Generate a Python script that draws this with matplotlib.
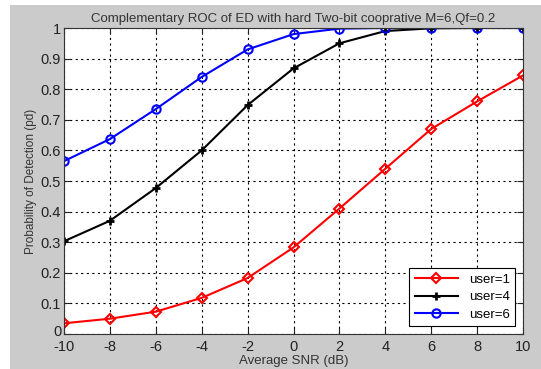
import matplotlib
matplotlib.use("Agg")
import matplotlib.pyplot as plt
from matplotlib.patches import Rectangle
import matplotlib.transforms as mtransforms

snr = [-10, -8, -6, -4, -2, 0, 2, 4, 6, 8, 10]
user1 = [0.035, 0.050, 0.073, 0.118, 0.183, 0.283, 0.410, 0.540, 0.670, 0.760, 0.845]
user4 = [0.303, 0.370, 0.477, 0.600, 0.748, 0.868, 0.950, 0.990, 0.999, 1.0, 1.0]
user6 = [0.565, 0.637, 0.735, 0.840, 0.930, 0.980, 0.998, 1.0, 1.0, 1.0, 1.0]
xticks = [-10, -8, -6, -4, -2, 0, 2, 4, 6, 8, 10]
yticks = [0, 0.1, 0.2, 0.3, 0.4, 0.5, 0.6, 0.7, 0.8, 0.9, 1]
ylabels = ['0', '0.1', '0.2', '0.3', '0.4', '0.5', '0.6', '0.7', '0.8', '0.9', '1']

plt.rcParams['font.family'] = ['Liberation Sans', 'DejaVu Sans']
plt.rcParams['axes.unicode_minus'] = False
W, H = 541, 369
fig = plt.figure(figsize=(W/100, H/100), dpi=100, facecolor='white')
fig.patches.append(Rectangle((10/W, 0), 1 - 10/W, 1 - 5/H, transform=fig.transFigure,
                             facecolor='#cbcbcb', edgecolor='none', zorder=-10))
ax = fig.add_axes([64/W, 1 - 334/H, (523-64)/W, (334-28)/H])
ax.set_facecolor('white')

ax.plot(snr, user1, color='#ff0000', marker='D', mfc='none', mec='#ff0000', ms=5, mew=1.5, lw=1.5, label='user=1')
ax.plot(snr, user4, color='black', marker='+', ms=6, mew=2, lw=1.5, label='user=4')
ax.plot(snr, user6, color='#0000ff', marker='o', mfc='none', mec='#0000ff', ms=6, mew=1.5, lw=1.5, label='user=6')

ax.set_xlim(-10, 10)
ax.set_ylim(0, 1)
ax.set_xticks(xticks)
ax.set_yticks(yticks)
ax.set_yticklabels(ylabels)
ax.grid(True, color='black', linestyle=(0, (2, 3)), linewidth=0.8)
ax.tick_params(direction='in', length=4, labelsize=10.5, colors='#222222', pad=2)
ax.tick_params(axis='x', pad=4)
ax.tick_params(top=True, right=True)
for s in ax.spines.values():
    s.set_color('#333333')
    s.set_linewidth(0.8)

fig.canvas.draw()
lab0 = ax.get_yticklabels()[0]
lab0.set_transform(lab0.get_transform() + mtransforms.ScaledTranslation(0, 3/100, fig.dpi_scale_trans))

ax.set_title('Complementary ROC of ED with hard Two-bit cooprative M=6,Qf=0.2', fontsize=9.5, color='#333333', pad=4)
ax.set_xlabel('Average SNR (dB)', fontsize=9.5, color='#333333', labelpad=1)
ax.set_ylabel('Probability of Detection (pd)', fontsize=8.5, color='#333333', labelpad=3)

leg = ax.legend(loc='lower right', fancybox=False, framealpha=1, edgecolor='black',
                fontsize=9.5, handlelength=3.3, borderaxespad=0.6, labelspacing=0.4)
leg.get_frame().set_linewidth(0.8)

fig.savefig('out.png', dpi=100, facecolor=fig.get_facecolor())
